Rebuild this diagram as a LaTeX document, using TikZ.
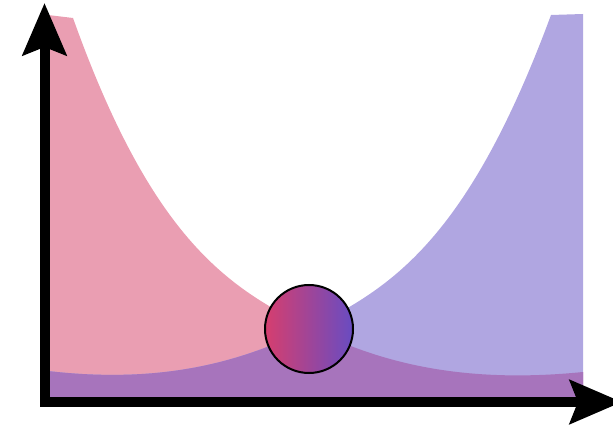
\documentclass[tikz,border=0pt]{standalone}
\usetikzlibrary{arrows.meta}
\definecolor{pinkc}{RGB}{234,158,178}
\definecolor{bluec}{RGB}{176,166,225}
\definecolor{mixc}{RGB}{167,116,188}
\definecolor{ballL}{RGB}{214,62,110}
\definecolor{ballR}{RGB}{104,76,194}
\def\pinkpath{(48,15) -- (73,18) .. controls (153,242) and (230,288) .. (310,328) .. controls (380,363) and (463,384) .. (583,372) -- (583,398) -- (48,398) -- cycle}
\def\bluepath{(583,14) -- (551,15) .. controls (467,242) and (390,288) .. (310,328) .. controls (240,363) and (160,384) .. (48,371) -- (48,398) -- (583,398) -- cycle}
\tikzset{
  axis/.style={line width=7.5pt, line join=miter,
    {Stealth[length=39pt,width=32.5pt,inset=6pt]}-{Stealth[length=39pt,width=32.5pt,inset=6pt]}},
  ball/.style={circle, minimum size=66pt, inner sep=0pt, draw=black, line width=1.5pt,
    left color=ballL, right color=ballR, shading angle=90}
}
\begin{document}
\begin{tikzpicture}[x=0.75pt,y=-0.75pt]
\useasboundingbox (0,0) rectangle (613,427);
\fill[pinkc] \pinkpath;
\fill[bluec] \bluepath;
\begin{scope}
  \clip \pinkpath;
  \fill[mixc] \bluepath;
\end{scope}
\coordinate (O) at (44.5,402);
\coordinate (Y) at (44.5,3);
\coordinate (X) at (622,402);
\draw[axis] (Y) -- (O) -- (X);
\node[ball] (b) at (309,329) {};
\end{tikzpicture}
\end{document}
